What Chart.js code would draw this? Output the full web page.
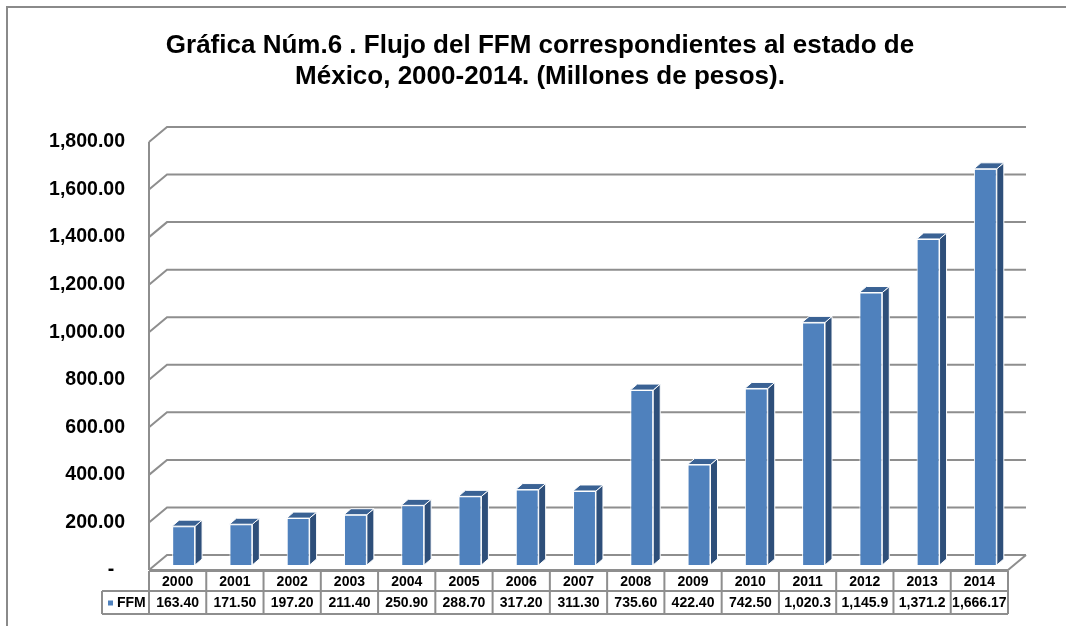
<!DOCTYPE html>
<html>
<head>
<meta charset="utf-8">
<script src="https://cdn.jsdelivr.net/npm/chart.js@4/dist/chart.umd.min.js"></script>
<style>
  html, body { margin: 0; padding: 0; background: #fff; }
  #wrap { width: 1066px; height: 626px; position: relative; }
</style>
</head>
<body>
<div id="wrap"><canvas id="chart" width="1066" height="626"></canvas></div>
<script>
  const years = ["2000", "2001", "2002", "2003", "2004", "2005", "2006", "2007",
                 "2008", "2009", "2010", "2011", "2012", "2013", "2014"];
  const ffmValues = [163.40, 171.50, 197.20, 211.40, 250.90, 288.70, 317.20, 311.30,
                     735.60, 422.40, 742.50, 1020.3, 1145.9, 1371.2, 1666.17];
  // labels as printed in the data table under the chart
  const ffmLabels = ["163.40", "171.50", "197.20", "211.40", "250.90", "288.70", "317.20", "311.30",
                     "735.60", "422.40", "742.50", "1,020.3", "1,145.9", "1,371.2", "1,666.17"];
  const titleLines = ["Gráfica Núm.6 . Flujo del FFM correspondientes al estado de",
                      "México, 2000-2014. (Millones de pesos)."];
  const seriesName = "FFM";

  const FONT = "'Liberation Sans', Arial, sans-serif";
  const GRID = "#8e8e8e";
  const FRONT = "#4f81bd";
  const SIDE = "#2e4f7a";
  const TOP = "#3a6294";
  const wall = { dx: 18, dy: -15 };   // depth of the back wall
  const barShift = { dx: 6, dy: -5 }; // bars stand a little behind the front plane
  const barDepth = { dx: 7, dy: -6 };

  const threeD = {
    id: "threeD",
    beforeDraw(chart) {
      const ctx = chart.ctx;
      ctx.save();
      ctx.fillStyle = "#fff";
      ctx.fillRect(0, 0, chart.width, chart.height);
      // outer frame (top and left)
      ctx.strokeStyle = "#8a8a8a";
      ctx.lineWidth = 2;
      ctx.beginPath();
      ctx.moveTo(7, chart.height);
      ctx.lineTo(7, 7);
      ctx.lineTo(chart.width, 7);
      ctx.stroke();
      // title
      ctx.fillStyle = "#000";
      ctx.font = "bold 26px " + FONT;
      ctx.textAlign = "center";
      ctx.textBaseline = "middle";
      titleLines.forEach((t, i) => ctx.fillText(t, 540, 46 + i * 31));
      ctx.restore();
    },
    beforeDatasetsDraw(chart) {
      const ctx = chart.ctx;
      const a = chart.chartArea;
      const y = chart.scales.y;
      ctx.save();
      ctx.strokeStyle = GRID;
      ctx.lineWidth = 2;
      // back-wall gridlines with their left-wall diagonals
      y.ticks.forEach((t) => {
        const py = y.getPixelForValue(t.value);
        ctx.beginPath();
        ctx.moveTo(a.left, py);
        ctx.lineTo(a.left + wall.dx, py + wall.dy);
        ctx.lineTo(a.right + wall.dx, py + wall.dy);
        ctx.stroke();
      });
      // floor
      const y0 = y.getPixelForValue(0);
      ctx.beginPath();
      ctx.moveTo(a.left, y0);
      ctx.lineTo(a.right, y0);
      ctx.lineTo(a.right + wall.dx, y0 + wall.dy);
      ctx.stroke();
      // left axis
      ctx.beginPath();
      ctx.moveTo(a.left, y.getPixelForValue(1800));
      ctx.lineTo(a.left, y0);
      ctx.stroke();
      ctx.restore();

      ctx.save();
      ctx.translate(barShift.dx, barShift.dy);
    },
    afterDatasetsDraw(chart) {
      const ctx = chart.ctx;
      const meta = chart.getDatasetMeta(0);
      ctx.strokeStyle = "#fff";
      ctx.lineWidth = 1;
      meta.data.forEach((bar) => {
        const p = bar.getProps(["x", "y", "base", "width"], true);
        const l = p.x - p.width / 2, r = p.x + p.width / 2;
        // side face
        ctx.fillStyle = SIDE;
        ctx.beginPath();
        ctx.moveTo(r, p.y);
        ctx.lineTo(r + barDepth.dx, p.y + barDepth.dy);
        ctx.lineTo(r + barDepth.dx, p.base + barDepth.dy);
        ctx.lineTo(r, p.base);
        ctx.closePath();
        ctx.fill();
        ctx.stroke();
        // top face
        ctx.fillStyle = TOP;
        ctx.beginPath();
        ctx.moveTo(l, p.y);
        ctx.lineTo(l + barDepth.dx, p.y + barDepth.dy);
        ctx.lineTo(r + barDepth.dx, p.y + barDepth.dy);
        ctx.lineTo(r, p.y);
        ctx.closePath();
        ctx.fill();
        ctx.stroke();
      });
      ctx.restore();
    },
    afterDraw(chart) {
      // data table under the plot
      const ctx = chart.ctx;
      const a = chart.chartArea;
      const x = chart.scales.x;
      const y0 = chart.scales.y.getPixelForValue(0);
      const r1 = y0 + 1, r2 = y0 + 21, r3 = y0 + 44;
      const legendLeft = 102;
      const step = (a.right - a.left) / years.length;
      ctx.save();
      ctx.strokeStyle = GRID;
      ctx.lineWidth = 2;
      ctx.beginPath();
      ctx.moveTo(a.left, r1); ctx.lineTo(a.right, r1);
      ctx.moveTo(legendLeft, r2); ctx.lineTo(a.right, r2);
      ctx.moveTo(legendLeft, r3); ctx.lineTo(a.right, r3);
      ctx.moveTo(legendLeft, r2); ctx.lineTo(legendLeft, r3);
      for (let i = 0; i <= years.length; i++) {
        const cx = a.left + i * step;
        ctx.moveTo(cx, r1); ctx.lineTo(cx, r3);
      }
      ctx.stroke();

      ctx.fillStyle = "#000";
      ctx.font = "bold 14px " + FONT;
      ctx.textAlign = "center";
      ctx.textBaseline = "middle";
      years.forEach((yr, i) => {
        const cx = x.getPixelForValue(i);
        ctx.fillText(yr, cx, (r1 + r2) / 2 + 1);
        ctx.fillText(ffmLabels[i], cx, (r2 + r3) / 2 + 1);
      });
      ctx.fillStyle = FRONT;
      ctx.fillRect(108, (r2 + r3) / 2 - 2, 5, 5);
      ctx.fillStyle = "#000";
      ctx.textAlign = "left";
      ctx.fillText(seriesName, 117, (r2 + r3) / 2 + 1);
      ctx.restore();
    }
  };

  new Chart(document.getElementById("chart"), {
    type: "bar",
    data: {
      labels: years,
      datasets: [{
        label: seriesName,
        data: ffmValues,
        backgroundColor: FRONT,
        borderColor: "#fff",
        borderWidth: 1,
        barPercentage: 0.4,
        categoryPercentage: 1.0
      }]
    },
    options: {
      responsive: false,
      animation: false,
      layout: { padding: { left: 0, right: 58, top: 142, bottom: 56 } },
      plugins: {
        legend: { display: false },
        title: { display: false },
        tooltip: { enabled: false }
      },
      scales: {
        x: {
          grid: { display: false },
          border: { display: false },
          ticks: { display: false },
          afterFit: (s) => { s.height = 0; }
        },
        y: {
          min: 0,
          max: 1800,
          grid: { display: false },
          border: { display: false },
          afterFit: (s) => { s.width = 149; },
          ticks: {
            stepSize: 200,
            padding: 16,
            color: "#000",
            font: { family: FONT, size: 19.5, weight: "bold" },
            callback: (v) => v === 0 ? "-  " :
              v.toLocaleString("en-US", { minimumFractionDigits: 2, maximumFractionDigits: 2 })
          }
        }
      }
    },
    plugins: [threeD]
  });
</script>
</body>
</html>
